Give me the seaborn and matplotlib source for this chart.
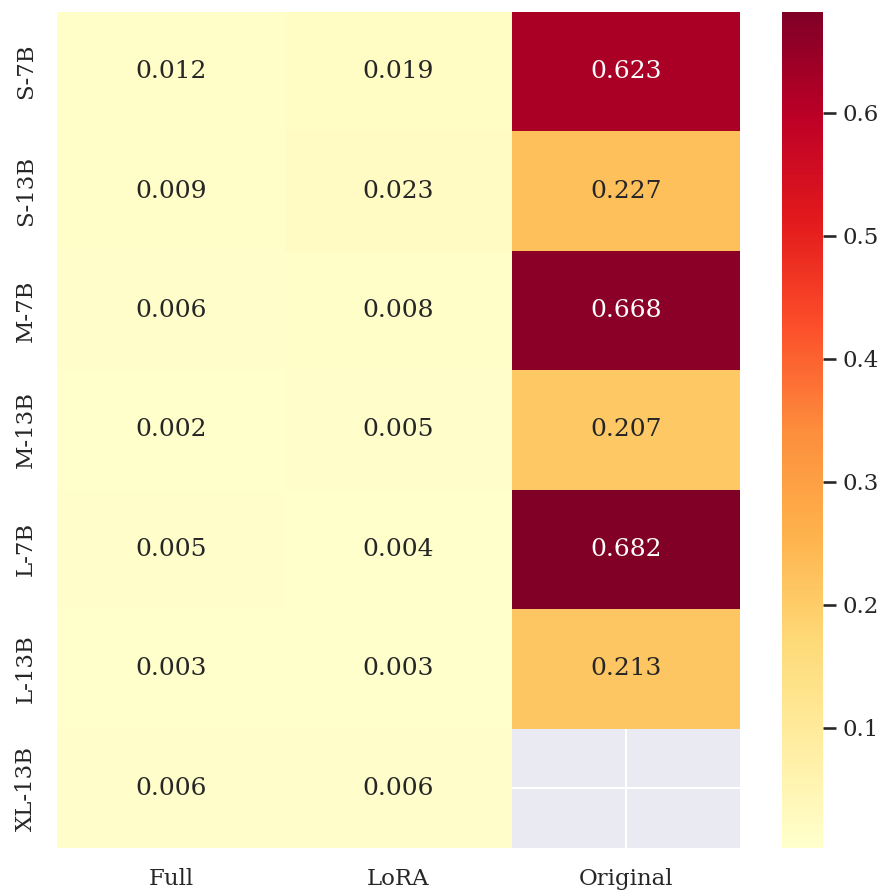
import numpy as np
import pandas as pd
import matplotlib
matplotlib.use("Agg")
import matplotlib.pyplot as plt
import seaborn as sns

models = ["S-7B", "S-13B", "M-7B", "M-13B", "L-7B", "L-13B", "XL-13B"]
methods = ["Full", "LoRA", "Original"]
full = [0.012, 0.009, 0.006, 0.002, 0.005, 0.003, 0.006]
lora = [0.019, 0.023, 0.008, 0.005, 0.004, 0.003, 0.006]
original = [0.623, 0.227, 0.668, 0.207, 0.682, 0.213, np.nan]

df = pd.DataFrame({"Full": full, "LoRA": lora, "Original": original}, index=models)[methods]

sns.set_theme(style="darkgrid", font="serif")
plt.rcParams["font.family"] = ["DejaVu Serif"]

DPI = 150
W, H = 885, 895
fig = plt.figure(figsize=(W / DPI, H / DPI), dpi=DPI)
ax = fig.add_axes([57 / W, 1 - 848 / H, (740 - 57) / W, (848 - 12) / H])
cax = fig.add_axes([782 / W, 1 - 848 / H, (823 - 782) / W, (848 - 12) / H])

sns.heatmap(df, ax=ax, cbar_ax=cax, cmap="YlOrRd", annot=True, fmt=".3f")
ax.set_xlabel("")
ax.set_ylabel("")

fig.savefig("out.png", dpi=DPI)
